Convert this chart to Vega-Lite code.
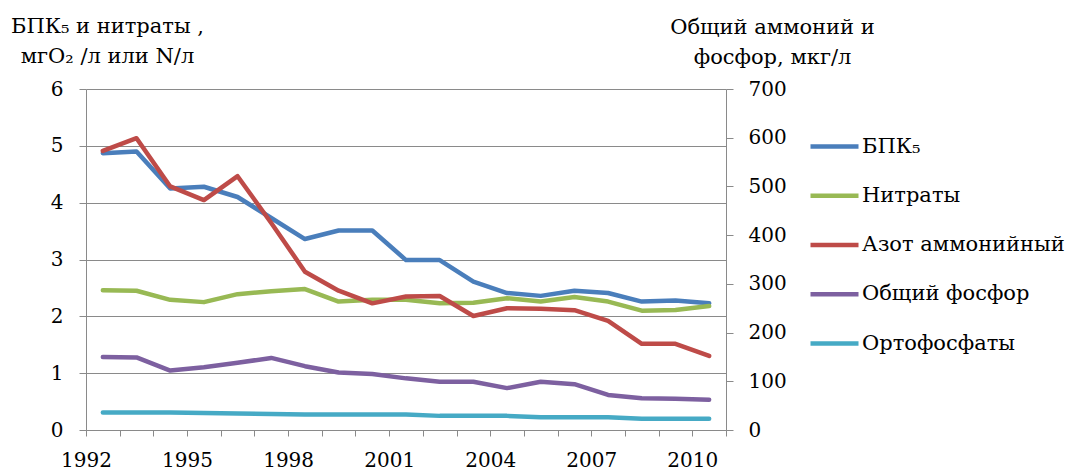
{
  "$schema": "https://vega.github.io/schema/vega-lite/v6.json",
  "width": 640,
  "height": 341,
  "autosize": "none",
  "padding": {"left": 86, "top": 89, "right": 341, "bottom": 40},
  "background": "white",
  "config": {
    "view": {"stroke": null},
    "font": "DejaVu Serif",
    "axis": {
      "labelFont": "DejaVu Serif",
      "titleFont": "DejaVu Serif",
      "labelFontSize": 20,
      "titleFontSize": 21,
      "labelColor": "#000000",
      "titleColor": "#000000",
      "titleFontWeight": "normal",
      "domainColor": "#8a8a8a",
      "tickColor": "#8a8a8a",
      "gridColor": "#8a8a8a",
      "gridOpacity": 1
    },
    "axisX": {"labelOverlap": false, "labelFlush": false, "labelBound": false, "labelFont": "DejaVu Serif"},
    "axisY": {"labelFont": "DejaVu Serif"},
    "legend": {
      "labelFont": "DejaVu Serif",
      "labelFontSize": 21,
      "labelColor": "#000000",
      "labelLimit": 400
    }
  },
  "datasets": {
    "left": [
      {"year": 1992, "series": "БПК₅", "value": 4.87},
      {"year": 1993, "series": "БПК₅", "value": 4.90},
      {"year": 1994, "series": "БПК₅", "value": 4.25},
      {"year": 1995, "series": "БПК₅", "value": 4.28},
      {"year": 1996, "series": "БПК₅", "value": 4.10},
      {"year": 1997, "series": "БПК₅", "value": 3.73},
      {"year": 1998, "series": "БПК₅", "value": 3.36},
      {"year": 1999, "series": "БПК₅", "value": 3.51},
      {"year": 2000, "series": "БПК₅", "value": 3.51},
      {"year": 2001, "series": "БПК₅", "value": 2.99},
      {"year": 2002, "series": "БПК₅", "value": 2.99},
      {"year": 2003, "series": "БПК₅", "value": 2.61},
      {"year": 2004, "series": "БПК₅", "value": 2.41},
      {"year": 2005, "series": "БПК₅", "value": 2.36},
      {"year": 2006, "series": "БПК₅", "value": 2.45},
      {"year": 2007, "series": "БПК₅", "value": 2.41},
      {"year": 2008, "series": "БПК₅", "value": 2.26},
      {"year": 2009, "series": "БПК₅", "value": 2.28},
      {"year": 2010, "series": "БПК₅", "value": 2.23},
      {"year": 1992, "series": "Нитраты", "value": 2.46},
      {"year": 1993, "series": "Нитраты", "value": 2.45},
      {"year": 1994, "series": "Нитраты", "value": 2.29},
      {"year": 1995, "series": "Нитраты", "value": 2.25},
      {"year": 1996, "series": "Нитраты", "value": 2.39},
      {"year": 1997, "series": "Нитраты", "value": 2.44},
      {"year": 1998, "series": "Нитраты", "value": 2.48},
      {"year": 1999, "series": "Нитраты", "value": 2.26},
      {"year": 2000, "series": "Нитраты", "value": 2.29},
      {"year": 2001, "series": "Нитраты", "value": 2.29},
      {"year": 2002, "series": "Нитраты", "value": 2.23},
      {"year": 2003, "series": "Нитраты", "value": 2.24},
      {"year": 2004, "series": "Нитраты", "value": 2.32},
      {"year": 2005, "series": "Нитраты", "value": 2.26},
      {"year": 2006, "series": "Нитраты", "value": 2.34},
      {"year": 2007, "series": "Нитраты", "value": 2.26},
      {"year": 2008, "series": "Нитраты", "value": 2.10},
      {"year": 2009, "series": "Нитраты", "value": 2.11},
      {"year": 2010, "series": "Нитраты", "value": 2.18}
    ],
    "right": [
      {"year": 1992, "series": "Азот аммонийный", "value": 573},
      {"year": 1993, "series": "Азот аммонийный", "value": 599},
      {"year": 1994, "series": "Азот аммонийный", "value": 500},
      {"year": 1995, "series": "Азот аммонийный", "value": 472},
      {"year": 1996, "series": "Азот аммонийный", "value": 521},
      {"year": 1997, "series": "Азот аммонийный", "value": 425},
      {"year": 1998, "series": "Азот аммонийный", "value": 325},
      {"year": 1999, "series": "Азот аммонийный", "value": 286},
      {"year": 2000, "series": "Азот аммонийный", "value": 260},
      {"year": 2001, "series": "Азот аммонийный", "value": 274},
      {"year": 2002, "series": "Азот аммонийный", "value": 275},
      {"year": 2003, "series": "Азот аммонийный", "value": 234},
      {"year": 2004, "series": "Азот аммонийный", "value": 250},
      {"year": 2005, "series": "Азот аммонийный", "value": 249},
      {"year": 2006, "series": "Азот аммонийный", "value": 246},
      {"year": 2007, "series": "Азот аммонийный", "value": 224},
      {"year": 2008, "series": "Азот аммонийный", "value": 177},
      {"year": 2009, "series": "Азот аммонийный", "value": 177},
      {"year": 2010, "series": "Азот аммонийный", "value": 152},
      {"year": 1992, "series": "Общий фосфор", "value": 150},
      {"year": 1993, "series": "Общий фосфор", "value": 149},
      {"year": 1994, "series": "Общий фосфор", "value": 122},
      {"year": 1995, "series": "Общий фосфор", "value": 129},
      {"year": 1996, "series": "Общий фосфор", "value": 138},
      {"year": 1997, "series": "Общий фосфор", "value": 148},
      {"year": 1998, "series": "Общий фосфор", "value": 131},
      {"year": 1999, "series": "Общий фосфор", "value": 118},
      {"year": 2000, "series": "Общий фосфор", "value": 115},
      {"year": 2001, "series": "Общий фосфор", "value": 106},
      {"year": 2002, "series": "Общий фосфор", "value": 99},
      {"year": 2003, "series": "Общий фосфор", "value": 99},
      {"year": 2004, "series": "Общий фосфор", "value": 86},
      {"year": 2005, "series": "Общий фосфор", "value": 99},
      {"year": 2006, "series": "Общий фосфор", "value": 94},
      {"year": 2007, "series": "Общий фосфор", "value": 72},
      {"year": 2008, "series": "Общий фосфор", "value": 65},
      {"year": 2009, "series": "Общий фосфор", "value": 64},
      {"year": 2010, "series": "Общий фосфор", "value": 62},
      {"year": 1992, "series": "Ортофосфаты", "value": 36},
      {"year": 1993, "series": "Ортофосфаты", "value": 36},
      {"year": 1994, "series": "Ортофосфаты", "value": 36},
      {"year": 1995, "series": "Ортофосфаты", "value": 35},
      {"year": 1996, "series": "Ортофосфаты", "value": 34},
      {"year": 1997, "series": "Ортофосфаты", "value": 33},
      {"year": 1998, "series": "Ортофосфаты", "value": 32},
      {"year": 1999, "series": "Ортофосфаты", "value": 32},
      {"year": 2000, "series": "Ортофосфаты", "value": 32},
      {"year": 2001, "series": "Ортофосфаты", "value": 32},
      {"year": 2002, "series": "Ортофосфаты", "value": 29},
      {"year": 2003, "series": "Ортофосфаты", "value": 29},
      {"year": 2004, "series": "Ортофосфаты", "value": 29},
      {"year": 2005, "series": "Ортофосфаты", "value": 26},
      {"year": 2006, "series": "Ортофосфаты", "value": 26},
      {"year": 2007, "series": "Ортофосфаты", "value": 26},
      {"year": 2008, "series": "Ортофосфаты", "value": 23},
      {"year": 2009, "series": "Ортофосфаты", "value": 23},
      {"year": 2010, "series": "Ортофосфаты", "value": 23}
    ]
  },
  "layer": [
    {
      "data": {"name": "left"},
      "mark": {"type": "line", "strokeWidth": 4.5, "strokeCap": "round", "strokeJoin": "round"},
      "encoding": {
        "x": {
          "field": "year",
          "type": "quantitative",
          "scale": {"domain": [1991.5, 2010.5], "nice": false, "zero": false},
          "axis": {
            "title": null,
            "values": [1991.5, 1992.5, 1993.5, 1994.5, 1995.5, 1996.5, 1997.5, 1998.5, 1999.5, 2000.5, 2001.5, 2002.5, 2003.5, 2004.5, 2005.5, 2006.5, 2007.5, 2008.5, 2009.5, 2010.5],
            "labelExpr": "(datum.value + 0.5 - 1992) % 3 == 0 ? toString(datum.value + 0.5) : ''",
            "labelDx": 16.85,
            "labelFlush": false,
            "labelOverlap": false,
            "labelBound": false,
            "labelFont": "DejaVu Serif",
            "labelFontSize": 20,
            "grid": false,
            "tickSize": 6,
            "labelPadding": 14,
            "labelBaseline": "top"
          }
        },
        "y": {
          "field": "value",
          "type": "quantitative",
          "scale": {"domain": [0, 6], "nice": false},
          "axis": {
            "orient": "left",
            "values": [0, 1, 2, 3, 4, 5, 6],
            "grid": true,
            "tickSize": 7,
            "labelPadding": 16,
            "labelFont": "DejaVu Serif",
            "labelFontSize": 20,
            "title": ["БПК₅ и нитраты ,", "мгО₂ /л или N/л"],
            "titleFont": "DejaVu Serif",
            "titleAngle": 0,
            "titleAlign": "center",
            "titleBaseline": "alphabetic",
            "titleX": 21,
            "titleY": -57,
            "titleLineHeight": 30
          }
        },
        "color": {
          "field": "series",
          "type": "nominal",
          "scale": {
            "domain": ["БПК₅", "Нитраты", "Азот аммонийный", "Общий фосфор", "Ортофосфаты"],
            "range": ["#4a7ebb", "#98b954", "#be4b48", "#7d60a0", "#46aac5"]
          },
          "legend": {
            "orient": "none",
            "legendX": 722,
            "legendY": 31,
            "title": null,
            "padding": 0,
            "symbolType": "stroke",
            "symbolSize": 2304,
            "symbolStrokeWidth": 4.5,
            "rowPadding": 12.25,
            "labelOffset": 1,
            "labelFont": "DejaVu Serif",
            "labelFontSize": 21
          }
        }
      }
    },
    {
      "data": {"name": "right"},
      "mark": {"type": "line", "strokeWidth": 4.5, "strokeCap": "round", "strokeJoin": "round"},
      "encoding": {
        "x": {
          "field": "year",
          "type": "quantitative",
          "scale": {"domain": [1991.5, 2010.5], "nice": false, "zero": false},
          "axis": {
            "title": null,
            "values": [1991.5, 1992.5, 1993.5, 1994.5, 1995.5, 1996.5, 1997.5, 1998.5, 1999.5, 2000.5, 2001.5, 2002.5, 2003.5, 2004.5, 2005.5, 2006.5, 2007.5, 2008.5, 2009.5, 2010.5],
            "labelExpr": "(datum.value + 0.5 - 1992) % 3 == 0 ? toString(datum.value + 0.5) : ''",
            "labelDx": 16.85,
            "labelFlush": false,
            "labelOverlap": false,
            "labelBound": false,
            "labelFont": "DejaVu Serif",
            "labelFontSize": 20,
            "grid": false,
            "tickSize": 6,
            "labelPadding": 14,
            "labelBaseline": "top"
          }
        },
        "y": {
          "field": "value",
          "type": "quantitative",
          "scale": {"domain": [0, 700], "nice": false},
          "axis": {
            "orient": "right",
            "values": [0, 100, 200, 300, 400, 500, 600, 700],
            "grid": false,
            "tickSize": 7,
            "labelPadding": 15,
            "labelFont": "DejaVu Serif",
            "labelFontSize": 20,
            "title": ["Общий аммоний и", "фосфор, мкг/л"],
            "titleFont": "DejaVu Serif",
            "titleAngle": 0,
            "titleAlign": "center",
            "titleBaseline": "alphabetic",
            "titleX": 46,
            "titleY": -56,
            "titleLineHeight": 30
          }
        },
        "color": {
          "field": "series",
          "type": "nominal",
          "scale": {
            "domain": ["БПК₅", "Нитраты", "Азот аммонийный", "Общий фосфор", "Ортофосфаты"],
            "range": ["#4a7ebb", "#98b954", "#be4b48", "#7d60a0", "#46aac5"]
          }
        }
      }
    }
  ],
  "resolve": {"scale": {"y": "independent"}}
}
